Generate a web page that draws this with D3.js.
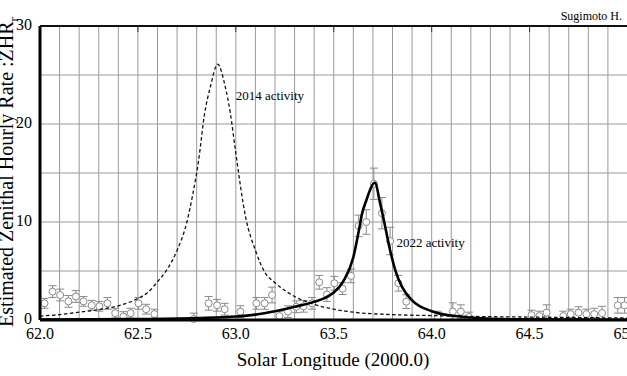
<!DOCTYPE html>
<html>
<head>
<meta charset="utf-8">
<script src="https://cdn.jsdelivr.net/npm/d3@7"></script>
<style>
  body { margin: 0; background: #fff; }
  text { font-family: "Liberation Serif", "DejaVu Serif", serif; }
</style>
</head>
<body>
<svg width="627" height="376"></svg>
<script>
// observed ZHR (circles with error bars)
const obsLon = [62.023, 62.064, 62.103, 62.145, 62.183, 62.222, 62.264, 62.303, 62.344, 62.384,
  62.426, 62.463, 62.503, 62.542, 62.584, 62.785, 62.861, 62.904, 62.943, 63.023,
  63.105, 63.147, 63.185, 63.223, 63.266, 63.309, 63.346, 63.389, 63.426, 63.465,
  63.503, 63.545, 63.588, 63.627, 63.666, 63.705, 63.746, 63.788, 63.83, 63.87,
  64.03, 64.108, 64.149, 64.19, 64.51, 64.55, 64.587, 64.672, 64.71, 64.75,
  64.79, 64.83, 64.87, 64.95, 64.985];
const obsZhr = [1.7, 2.9, 2.55, 1.9, 2.4, 1.9, 1.5, 1.4, 1.7, 0.7,
  0.35, 0.7, 1.7, 1.1, 0.6, 0.1, 1.7, 1.5, 1.1, 0.85,
  1.7, 1.7, 2.55, 0.4, 0.85, 1.35, 1.4, 1.7, 3.85, 2.6,
  3.75, 3.2, 4.5, 9.6, 10.0, 13.9, 10.9, 8.06, 3.75, 1.87,
  0.3, 0.85, 0.85, 0.3, 0.5, 0.4, 0.75, 0.4, 0.6, 0.75,
  0.6, 0.6, 0.7, 1.5, 1.5];
const obsErr = [0.5, 0.6, 0.6, 0.6, 0.6, 0.5, 0.5, 0.5, 0.6, 0.5,
  0.5, 0.5, 0.6, 0.5, 0.5, 0.6, 0.7, 0.6, 0.6, 0.6,
  0.6, 0.6, 0.8, 0.5, 0.6, 0.6, 0.6, 0.6, 0.7, 0.7,
  0.7, 0.6, 0.7, 1.1, 1.25, 1.6, 1.6, 1.4, 0.8, 0.7,
  0.6, 0.9, 0.7, 0.5, 0.5, 0.5, 0.8, 0.5, 0.5, 0.6,
  0.5, 0.6, 0.7, 0.8, 0.8];

// 2014 activity model (dashed)
const lon2014 = [62.0, 62.1, 62.2, 62.3, 62.4, 62.5, 62.55, 62.6, 62.65, 62.7,
  62.75, 62.78, 62.81, 62.84, 62.87, 62.907, 62.946, 62.972, 63.0, 63.05,
  63.1, 63.15, 63.2, 63.3, 63.4, 63.5, 63.6, 63.8, 64.0, 64.25,
  64.5, 64.75, 65.0];
const zhr2014 = [0.4, 0.55, 0.8, 1.05, 1.45, 2.2, 2.8, 3.9, 5.2, 7.1,
  10.0, 12.8, 16.3, 21.0, 23.8, 26.1, 23.8, 21.1, 17.0, 10.5,
  7.1, 4.8, 3.8, 2.4, 1.6, 1.1, 0.8, 0.55, 0.45, 0.35,
  0.3, 0.25, 0.2];

// 2022 activity model (solid)
const lon2022 = [62.0, 62.5, 62.8, 63.0, 63.1, 63.2, 63.3, 63.4, 63.45, 63.5,
  63.55, 63.6, 63.627, 63.644, 63.666, 63.71, 63.737, 63.763, 63.788, 63.814,
  63.848, 63.9, 64.0, 64.1, 64.2, 64.3, 64.5, 65.0];
const zhr2022 = [0.05, 0.1, 0.2, 0.35, 0.55, 0.9, 1.35, 1.85, 2.2, 2.8,
  4.0, 6.4, 9.0, 10.8, 12.2, 14.0, 11.9, 9.5, 7.1, 5.1,
  3.4, 2.0, 0.9, 0.45, 0.25, 0.12, 0.06, 0.03];

const xTicks = [62.0, 62.5, 63.0, 63.5, 64.0, 64.5, 65.0];
const yTicks = [0, 10, 20, 30];

const svg = d3.select("svg");
const margin = {top: 26, right: 0, bottom: 56, left: 40};
const width = 627.5 - margin.left, height = 376 - margin.top - margin.bottom;

const g = svg.append("g")
  .attr("transform", "translate(" + margin.left + "," + margin.top + ")");

const x = d3.scaleLinear().domain([62, 65]).range([0, width]);
const y = d3.scaleLinear().domain([0, 30]).range([height, 0]);

// grid
g.append("g")
  .selectAll("line")
  .data(d3.range(62.1, 65.0, 0.1))
  .enter().append("line")
  .attr("x1", d => x(d)).attr("x2", d => x(d))
  .attr("y1", 0).attr("y2", height)
  .attr("stroke", "#9a9a9a").attr("stroke-width", 1);

g.append("g")
  .selectAll("line")
  .data([5, 10, 15, 20, 25])
  .enter().append("line")
  .attr("x1", 0).attr("x2", width)
  .attr("y1", d => y(d)).attr("y2", d => y(d))
  .attr("stroke", "#9a9a9a").attr("stroke-width", 1);

// small major ticks on top
g.append("g").selectAll("line")
  .data(xTicks)
  .enter().append("line")
  .attr("x1", d => x(d)).attr("x2", d => x(d))
  .attr("y1", 0).attr("y2", 6)
  .attr("stroke", "#333").attr("stroke-width", 1);

// error bars
const eb = g.append("g").attr("stroke", "#8a8a8a").attr("stroke-width", 1);
obsLon.forEach(function(lon, i) {
  const cx = x(lon), top = y(obsZhr[i] + obsErr[i]), bot = y(Math.max(0, obsZhr[i] - obsErr[i]));
  eb.append("line").attr("x1", cx).attr("x2", cx).attr("y1", top).attr("y2", bot);
  eb.append("line").attr("x1", cx - 4).attr("x2", cx + 4).attr("y1", top).attr("y2", top);
  eb.append("line").attr("x1", cx - 4).attr("x2", cx + 4).attr("y1", bot).attr("y2", bot);
});

g.append("g")
  .selectAll("circle")
  .data(obsLon)
  .enter().append("circle")
  .attr("cx", d => x(d))
  .attr("cy", (d, i) => y(obsZhr[i]))
  .attr("r", 3.5)
  .attr("fill", "#fff")
  .attr("stroke", "#8a8a8a")
  .attr("stroke-width", 1);

const line = d3.line()
  .x(d => x(d[0]))
  .y(d => y(d[1]))
  .curve(d3.curveMonotoneX);

g.append("path")
  .datum(d3.zip(lon2014, zhr2014))
  .attr("d", line)
  .attr("fill", "none")
  .attr("stroke", "#111")
  .attr("stroke-width", 1.3)
  .attr("stroke-dasharray", "3.5,2.5");

g.append("path")
  .datum(d3.zip(lon2022, zhr2022))
  .attr("d", line)
  .attr("fill", "none")
  .attr("stroke", "#000")
  .attr("stroke-width", 2.6);

// frame
g.append("line").attr("x1", 0).attr("x2", width).attr("y1", 0).attr("y2", 0)
  .attr("stroke", "#111").attr("stroke-width", 2);
g.append("line").attr("x1", 0).attr("x2", width).attr("y1", height).attr("y2", height)
  .attr("stroke", "#000").attr("stroke-width", 3);
g.append("line").attr("x1", 0).attr("x2", 0).attr("y1", 0).attr("y2", height)
  .attr("stroke", "#000").attr("stroke-width", 3);

// tick labels
g.append("g").selectAll("text")
  .data(xTicks)
  .enter().append("text")
  .attr("x", d => x(d))
  .attr("y", height + 19)
  .attr("text-anchor", "middle")
  .style("font-size", "16px")
  .text(d => d.toFixed(1));

g.append("g").selectAll("text")
  .data(yTicks)
  .enter().append("text")
  .attr("x", -8)
  .attr("y", d => y(d) + 4)
  .attr("text-anchor", "end")
  .style("font-size", "16px")
  .text(d => d);

// annotations
g.append("text").attr("x", x(63.0)).attr("y", 74)
  .style("font-size", "13px").text("2014 activity");
g.append("text").attr("x", x(63.82)).attr("y", 221)
  .style("font-size", "13px").text("2022 activity");

// axis titles
svg.append("text")
  .attr("x", 333).attr("y", 366)
  .attr("text-anchor", "middle")
  .style("font-size", "19px")
  .text("Solar Longitude (2000.0)");

const yt = svg.append("text")
  .attr("transform", "translate(13,172) rotate(-90)")
  .attr("text-anchor", "middle")
  .style("font-size", "20px");
yt.append("tspan").text("Estimated Zenithal Hourly Rate :ZHR");
yt.append("tspan").attr("dy", 5).style("font-size", "13px").text("r");

svg.append("text")
  .attr("x", 622).attr("y", 20)
  .attr("text-anchor", "end")
  .style("font-size", "12px")
  .text("Sugimoto H.");
</script>
</body>
</html>
